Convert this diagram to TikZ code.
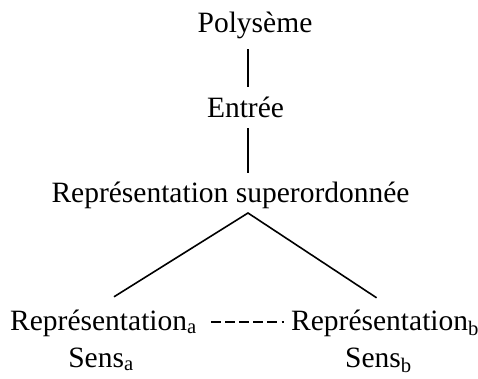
\documentclass[tikz,border=0pt]{standalone}
\usepackage{fontspec}
\setmainfont{Liberation Serif}
\begin{document}
\begin{tikzpicture}[x=1pt,y=-1pt,
  lbl/.style={inner sep=0pt, text height=20pt, text depth=7pt, font=\fontsize{29.5}{34}\selectfont},
  edge/.style={line width=1.6pt},
  dashedge/.style={line width=1.6pt, dash pattern=on 10pt off 4.1pt}]
\useasboundingbox (0,0) rectangle (478,379);
\node[lbl, anchor=base] (poly) at (255,33) {Polysème};
\node[lbl, anchor=base] (entree) at (245.5,118) {Entrée};
\node[lbl, anchor=base] (sup) at (230.5,202) {Représentation superordonnée};
\node[lbl, anchor=base west] (repa) at (10,330) {Représentation\textsubscript{a}};
\node[lbl, anchor=base west] (repb) at (291,330) {Représentation\textsubscript{b}};
\node[lbl, anchor=base] (sensa) at (101,367) {Sens\textsubscript{a}};
\node[lbl, anchor=base west] (sensb) at (345,367) {Sens\textsubscript{b}};
\coordinate (apex) at (248,213);
\draw[edge, shorten <=9pt, shorten >=11pt] (poly.south -| apex) -- (entree.north -| apex);
\draw[edge, shorten <=3pt, shorten >=9pt] (entree.south -| apex) -- (sup.north -| apex);
\draw[edge] ([shift={(10.5,-13)}]repa.north) -- (apex) -- ([shift={(-8.5,-12)}]repb.north);
\draw[dashedge, shorten <=14pt, shorten >=7pt] ([yshift=8pt]repa.base east) -- ([yshift=8pt]repb.base west);
\end{tikzpicture}
\end{document}
